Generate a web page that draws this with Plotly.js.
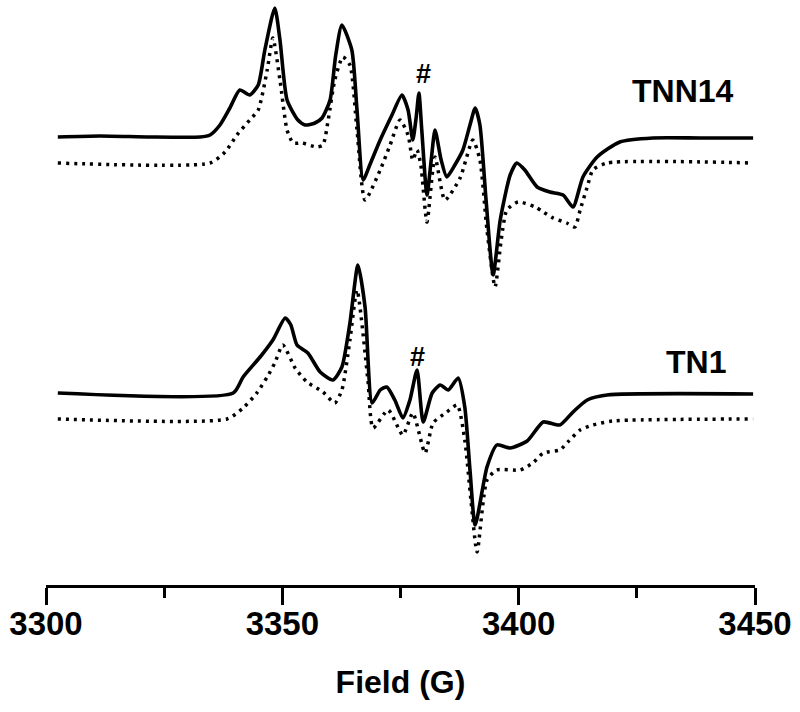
<!DOCTYPE html>
<html>
<head>
<meta charset="utf-8">
<script src="https://cdn.plot.ly/plotly-3.0.1.min.js"></script>
<style>html,body{margin:0;padding:0;background:#fff;}#chart{width:800px;height:712px;}</style>
</head>
<body>
<div id="chart"></div>
<script>
// Field values (G) and EPR signal (arbitrary units, relative to each trace's own baseline)
const tnn14ExpField = [3302.5,3311.4,3322.0,3332.6,3334.7,3336.8,3338.9,3341.0,3343.1,3344.9,3346.3,3348.4,3349.5,3351.0,3353.3,3354.8,3356.9,3358.4,3360.1,3361.3,3362.6,3364.7,3365.8,3367.1,3368.5,3370.7,3373.2,3375.3,3376.6,3377.6,3378.3,3378.9,3379.5,3380.6,3381.5,3382.3,3383.6,3384.8,3386.5,3388.2,3389.7,3390.8,3391.8,3393.1,3394.6,3396.1,3398.2,3399.6,3401.3,3403.9,3406.6,3409.4,3411.5,3413.6,3416.6,3421.4,3428.4,3438.4,3449.6];
const tnn14ExpSignal = [0,1,0,0,2,12,29,47,42,52,87,129,97,37,17,12,14,19,37,82,112,87,27,-43,-28,-3,22,42,27,-3,19,44,7,-58,-23,7,-23,-40,-28,-13,12,29,12,-63,-138,-83,-38,-26,-33,-50,-55,-58,-70,-40,-20,-5,-1,-1,-1];

const tnn14SimField = [3302.5,3334.7,3337.9,3340.4,3343.1,3344.9,3346.8,3348.0,3349.5,3351.0,3352.3,3354.2,3357.3,3358.6,3359.7,3361.1,3362.8,3364.3,3365.8,3367.5,3370.7,3372.8,3374.9,3376.6,3377.6,3378.5,3379.3,3380.6,3382.3,3384.4,3387.6,3390.3,3391.8,3393.3,3395.0,3396.3,3397.5,3399.9,3403.5,3405.2,3407.3,3410.2,3411.9,3413.0,3414.5,3415.7,3418.7,3449.6];
const tnn14SimSignal = [0,0,11,28,43,53,93,125,83,33,20,20,16,18,43,83,106,98,33,-37,-7,18,43,28,3,13,-2,-59,6,-37,-15,23,3,-67,-124,-77,-47,-39,-44,-49,-55,-60,-64,-47,-24,-7,0,0];

const tn1ExpField = [3302.5,3339.6,3341.7,3345.3,3348.0,3350.6,3351.8,3353.1,3355.4,3358.0,3360.7,3362.6,3364.3,3366.0,3367.5,3369.0,3370.7,3372.1,3373.8,3375.5,3377.0,3378.5,3379.8,3381.7,3383.4,3385.1,3387.2,3388.6,3389.7,3390.8,3393.3,3395.4,3398.2,3401.8,3405.2,3408.7,3411.5,3414.5,3418.7,3449.6];
const tn1ExpSignal = [0,0,16,36,53,75,68,48,40,21,13,26,70,128,86,-10,3,6,-7,-25,-7,23,-29,0,8,3,15,-14,-77,-132,-74,-52,-55,-48,-29,-32,-19,-7,-2,-1];

const tn1SimField = [3302.5,3338.3,3341.7,3344.6,3346.8,3348.4,3350.1,3352.7,3355.2,3358.6,3361.1,3362.6,3364.3,3365.8,3368.1,3369.2,3372.4,3375.5,3377.6,3380.2,3381.9,3384.8,3387.0,3388.6,3389.9,3391.2,3393.3,3395.4,3400.3,3403.0,3405.2,3408.7,3410.4,3413.0,3415.7,3419.9,3449.6];
const tn1SimSignal = [0,0,11,26,42,56,74,51,37,27,16,29,79,129,39,-9,9,-16,6,-34,-4,7,14,-21,-81,-133,-61,-51,-51,-44,-34,-31,-23,-11,-6,-2,0];

const traceNames = ["TNN14", "TNN14 simulation", "TN1", "TN1 simulation"];
const tickValues = [3300, 3350, 3400, 3450];
const labelTexts = ["TNN14", "TN1", "#", "#"];

// vertical stacking offsets (layout)
const offsets = [448, 422, 192, 166];

function shift(arr, off) { return arr.map(v => v + off); }

const solid = {color: "#000", width: 3.6, shape: "spline", smoothing: 0.6};
const dotted = {color: "#000", width: 3.5, dash: "3px,5px", shape: "spline", smoothing: 0.6};

const data = [
  {x: tnn14SimField, y: shift(tnn14SimSignal, offsets[1]), name: traceNames[1], mode: "lines", line: dotted},
  {x: tnn14ExpField, y: shift(tnn14ExpSignal, offsets[0]), name: traceNames[0], mode: "lines", line: solid},
  {x: tn1SimField, y: shift(tn1SimSignal, offsets[3]), name: traceNames[3], mode: "lines", line: dotted},
  {x: tn1ExpField, y: shift(tn1ExpSignal, offsets[2]), name: traceNames[2], mode: "lines", line: solid}
];

const fam = "Liberation Sans, Arial, sans-serif";
const tickFont = {family: fam, size: 33, color: "#000", weight: "bold"};
const titleFont = {family: fam, size: 32, color: "#000", weight: "bold"};
const labFont = {family: fam, size: 32, color: "#000", weight: "bold"};
const hashFont = {family: fam, size: 27, color: "#000", weight: "bold"};
const layout = {
  width: 800, height: 712,
  margin: {l: 46, r: 45, t: 0, b: 127},
  paper_bgcolor: "#fff", plot_bgcolor: "#fff",
  showlegend: false,
  xaxis: {
    range: [3300, 3450],
    tickvals: tickValues,
    ticktext: tickValues.map(String),
    showline: true, linecolor: "#000", linewidth: 3,
    ticks: "outside", ticklen: 17, tickwidth: 3, tickcolor: "#000",
    ticklabelstandoff: -10,
    minor: {dtick: 25, tick0: 3300, ticks: "outside", ticklen: 10, tickwidth: 3, tickcolor: "#000", showgrid: false},
    showgrid: false, zeroline: false,
    tickfont: tickFont,
    title: {text: "Field (G)", font: titleFont, standoff: 31}
  },
  yaxis: {range: [0, 585], visible: false, showgrid: false, zeroline: false},
  annotations: [
    {x: 3434.8, y: 494, xref: "x", yref: "y", text: labelTexts[0], showarrow: false, font: labFont},
    {x: 3437.5, y: 223, xref: "x", yref: "y", text: labelTexts[1], showarrow: false, font: labFont},
    {x: 3379.8, y: 511, xref: "x", yref: "y", text: labelTexts[2], showarrow: false, font: hashFont},
    {x: 3378.7, y: 228, xref: "x", yref: "y", text: labelTexts[3], showarrow: false, font: hashFont}
  ]
};

Plotly.newPlot("chart", data, layout, {displayModeBar: false, staticPlot: true});
</script>
</body>
</html>
